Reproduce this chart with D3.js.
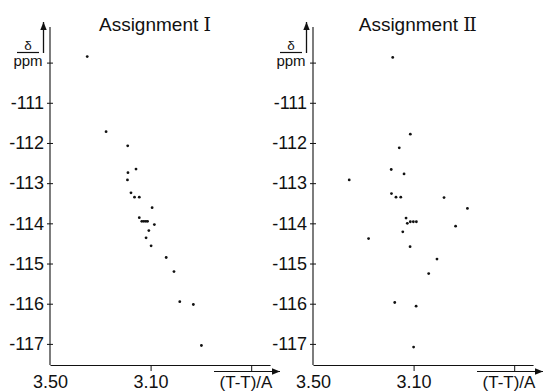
<!DOCTYPE html>
<html><head><meta charset="utf-8">
<script src="https://cdn.jsdelivr.net/npm/d3@7"></script>
<style>
html,body{margin:0;padding:0;background:#fff;}
svg{display:block;}
text{font-family:"Liberation Sans",Arial,sans-serif;fill:#111;}
</style></head>
<body>
<script>
// ---- data ----
const panelTitles = ["Assignment", "Assignment"];
const panelNumerals = ["I", "II"];
const yTickValues = [-110, -111, -112, -113, -114, -115, -116, -117];
const yTickLabels = ["", "-111", "-112", "-113", "-114", "-115", "-116", "-117"];
const xTickValues = [3.50, 3.10, 2.70];
const xTickLabels = ["3.50", "3.10", ""];
const xAxisLabel = "(T-T)/A";

// Assignment I : distance (Å) and shift (ppm)
const assign1Dist  = [3.352, 3.277, 3.191, 3.158, 3.190, 3.192, 3.178, 3.164, 3.145, 3.094, 3.145,
                      3.135, 3.127, 3.119, 3.112, 3.085, 3.107, 3.118, 3.098, 3.038, 3.007, 2.984, 2.930, 2.898];
const assign1Shift = [-109.85, -111.72, -112.07, -112.65, -112.74, -112.92, -113.24, -113.35, -113.35, -113.61, -113.86,
                      -113.95, -113.95, -113.95, -113.95, -114.03, -114.18, -114.36, -114.56, -114.85, -115.20, -115.95, -116.02, -117.04];
// Assignment II
const assign2Dist  = [3.183, 3.113, 3.157, 3.189, 3.138, 3.356, 3.188, 3.170, 3.151, 2.979, 2.886, 3.130, 3.125,
                      3.113, 3.101, 3.089, 2.933, 3.143, 3.279, 3.114, 3.007, 3.040, 3.175, 3.090, 3.100];
const assign2Shift = [-109.87, -111.78, -112.12, -112.66, -112.77, -112.92, -113.26, -113.35, -113.35, -113.36, -113.63, -113.87, -114.00,
                      -113.96, -113.96, -113.96, -114.07, -114.21, -114.38, -114.58, -114.89, -115.25, -115.97, -116.06, -117.08];

const W = 543, H = 391;
const svg = d3.select("body").append("svg").attr("width", W).attr("height", H);

const defs = svg.append("defs");
defs.append("marker").attr("id","ah").attr("viewBox","0 0 10 10")
  .attr("refX",10).attr("refY",5).attr("markerWidth",10).attr("markerHeight",8)
  .attr("markerUnits","userSpaceOnUse").attr("orient","auto")
  .append("path").attr("d","M0,1 L10,5 L0,9 Z").attr("fill","#111");

const panels = [
  {ox: 50,  dist: assign1Dist, shift: assign1Shift, title: panelTitles[0], num: panelNumerals[0], tx: 155},
  {ox: 313, dist: assign2Dist, shift: assign2Shift, title: panelTitles[1], num: panelNumerals[1], tx: 417}
];

const yAxisY = 365;
const pxPerA = 251.5;

panels.forEach(p => {
  const x = d3.scaleLinear().domain([3.50, 2.625]).range([p.ox, p.ox + 0.875 * pxPerA]);
  const y = d3.scaleLinear().domain([-110, -117]).range([62.6, 343.9]);
  const g = svg.append("g");

  // y axis
  const ya = g.append("g").attr("transform", `translate(${p.ox},0)`)
    .call(d3.axisLeft(y).tickValues(yTickValues)
      .tickFormat((d, i) => yTickLabels[i]).tickSizeOuter(0).tickSizeInner(3).tickPadding(3));
  ya.select(".domain").remove();
  ya.selectAll(".tick line").attr("x1", -3).attr("x2", 3).attr("stroke", "#111");
  ya.selectAll(".tick text").attr("font-size", 18).attr("font-family", "Liberation Sans, Arial, sans-serif").attr("fill","#111");
  g.append("line").attr("x1", p.ox).attr("x2", p.ox).attr("y1", 27).attr("y2", yAxisY)
    .attr("stroke", "#111").attr("stroke-width", 1.1);

  // small direction arrow beside y-axis
  g.append("line").attr("x1", p.ox - 6.5).attr("x2", p.ox - 6.5).attr("y1", 53).attr("y2", 22)
    .attr("stroke", "#111").attr("stroke-width", 1.3).attr("marker-end", "url(#ah)");

  // delta / ppm label
  g.append("text").attr("x", p.ox - 22).attr("y", 49.5).attr("text-anchor", "middle")
    .attr("font-size", 13.5).text("δ");
  g.append("line").attr("x1", p.ox - 33).attr("x2", p.ox - 11).attr("y1", 52.5).attr("y2", 52.5)
    .attr("stroke", "#111").attr("stroke-width", 1.2);
  g.append("text").attr("x", p.ox - 22).attr("y", 65.5).attr("text-anchor", "middle")
    .attr("font-size", 15).text("ppm");

  // x axis
  const xa = g.append("g").attr("transform", `translate(0,${yAxisY})`)
    .call(d3.axisBottom(x).tickValues(xTickValues)
      .tickFormat((d, i) => xTickLabels[i]).tickSizeOuter(0).tickSizeInner(6).tickPadding(4));
  xa.select(".domain").attr("stroke", "#111").attr("stroke-width", 1.1);
  xa.selectAll(".tick line").attr("stroke", "#111");
  xa.selectAll(".tick").filter(d => d === 3.50).select("line").remove();
  xa.selectAll(".tick text").attr("font-size", 18).attr("font-family", "Liberation Sans, Arial, sans-serif").attr("fill","#111");

  // axis label with arrow above
  g.append("line").attr("x1", p.ox + 164).attr("x2", p.ox + 230).attr("y1", 371.5).attr("y2", 371.5)
    .attr("stroke", "#111").attr("stroke-width", 1.2).attr("marker-end", "url(#ah)");
  g.append("text").attr("x", p.ox + 196).attr("y", 388).attr("text-anchor", "middle")
    .attr("font-size", 17).text(xAxisLabel);

  // title
  const t = g.append("text").attr("x", p.tx).attr("y", 31).attr("text-anchor", "middle")
    .attr("font-size", 19);
  t.append("tspan").text(p.title + " ");
  t.append("tspan").attr("font-family", "DejaVu Serif, Liberation Serif, serif")
    .attr("letter-spacing", p.num.length > 1 ? -1.5 : 0).text(p.num);

  // points
  g.selectAll("circle.pt").data(p.dist.map((d, i) => [d, p.shift[i]])).enter()
    .append("circle").attr("class", "pt")
    .attr("cx", d => x(d[0])).attr("cy", d => y(d[1])).attr("r", 1.4).attr("fill", "#111");
});
</script>
</body></html>
